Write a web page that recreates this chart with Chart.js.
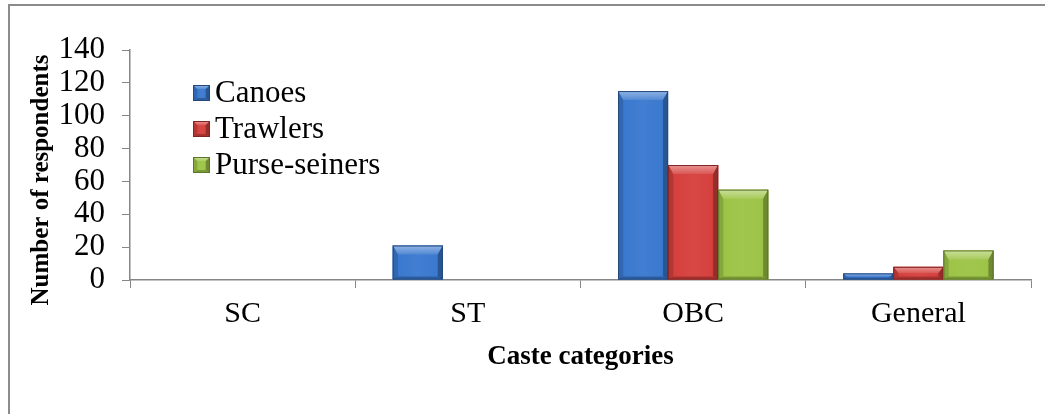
<!DOCTYPE html>
<html>
<head>
<meta charset="utf-8">
<title>Caste categories of respondents</title>
<script src="https://cdn.jsdelivr.net/npm/chart.js@4.4.1/dist/chart.umd.min.js"></script>
<style>
  html, body { margin: 0; padding: 0; background: #ffffff; }
  #wrap { position: relative; width: 1045px; height: 414px; overflow: hidden; }
  #frame { position: absolute; left: 8px; top: 4px; width: 1200px; height: 600px;
           border-top: 2px solid #8c8c8c; border-left: 2px solid #8c8c8c; pointer-events: none; }
  canvas { display: block; position: absolute; left: 0; top: 0; }
</style>
</head>
<body>
<div id="wrap">
  <canvas id="chart" width="1045" height="414"></canvas>
  <div id="frame"></div>
</div>
<script>
// Categories and series
const categories = ['SC', 'ST', 'OBC', 'General'];
const canoes = [0, 21, 115, 4];
const trawlers = [0, 0, 70, 8];
const purseSeiners = [0, 0, 55, 18];
const seriesNames = ['Canoes', 'Trawlers', 'Purse-seiners'];
const seriesColors = ['#3a79cf', '#d5403d', '#9dc447'];
const yTickValues = [0, 20, 40, 60, 80, 100, 120, 140];
const xAxisTitle = 'Caste categories';
const yAxisTitle = 'Number of respondents';

const SERIF = "'Liberation Serif', 'Times New Roman', serif";
const AXIS_GREY = '#868686';

// Mix a hex colour toward white (f > 0) or black (f < 0)
function shade(hex, f) {
  const n = parseInt(hex.slice(1), 16);
  let r = n >> 16, g = (n >> 8) & 255, b = n & 255;
  const t = f < 0 ? 0 : 255, p = Math.abs(f);
  r = Math.round((t - r) * p + r);
  g = Math.round((t - g) * p + g);
  b = Math.round((t - b) * p + b);
  return `rgb(${r},${g},${b})`;
}

function poly(ctx, pts, fill) {
  ctx.beginPath();
  ctx.moveTo(pts[0][0], pts[0][1]);
  for (let i = 1; i < pts.length; i++) ctx.lineTo(pts[i][0], pts[i][1]);
  ctx.closePath();
  ctx.fillStyle = fill;
  ctx.fill();
}

// Bevelled box: shaded body, bright top facet, darker side and bottom facets
function bevelBox(ctx, l, t, r, btm, color) {
  const w = r - l, h = btm - t;
  if (h <= 0.5 || w <= 0) return;
  const bt = Math.min(9, h / 2, w / 4);
  const bs = Math.min(5, h / 2, w / 4);
  const bb = Math.min(3, h / 3);
  ctx.save();
  const g = ctx.createLinearGradient(l, 0, r, 0);
  g.addColorStop(0, shade(color, -0.3));
  g.addColorStop(0.12, color);
  g.addColorStop(0.5, shade(color, 0.04));
  g.addColorStop(0.88, color);
  g.addColorStop(1, shade(color, -0.35));
  ctx.fillStyle = g;
  ctx.fillRect(l, t, w, h);

  const tg = ctx.createLinearGradient(0, t, 0, t + bt);
  tg.addColorStop(0, shade(color, 0.45));
  tg.addColorStop(1, shade(color, 0.12));
  poly(ctx, [[l, t], [r, t], [r - bs, t + bt], [l + bs, t + bt]], tg);
  poly(ctx, [[l, t], [l + bs, t + bt], [l + bs, btm - bb], [l, btm]], shade(color, -0.15));
  poly(ctx, [[r, t], [r - bs, t + bt], [r - bs, btm - bb], [r, btm]], shade(color, -0.3));
  poly(ctx, [[l, btm], [l + bs, btm - bb], [r - bs, btm - bb], [r, btm]], shade(color, -0.22));

  ctx.strokeStyle = shade(color, -0.4);
  ctx.lineWidth = 1;
  ctx.strokeRect(l + 0.5, t + 0.5, w - 1, h - 1);
  ctx.restore();
}

// Draws every bar with the bevelled look, at the positions the bar elements hold
const bevelBars = {
  id: 'bevelBars',
  afterDatasetsDraw(chart) {
    const ctx = chart.ctx;
    chart.data.datasets.forEach((ds, i) => {
      const meta = chart.getDatasetMeta(i);
      if (meta.hidden) return;
      meta.data.forEach(el => {
        const p = el.getProps(['x', 'y', 'base', 'width'], true);
        bevelBox(ctx, p.x - p.width / 2, Math.min(p.y, p.base),
                 p.x + p.width / 2, Math.max(p.y, p.base), ds.backgroundColor);
      });
    });
  }
};

// Legend block inside the plot and the rotated y-axis title
const sideTexts = {
  id: 'sideTexts',
  afterDraw(chart) {
    const ctx = chart.ctx;
    const area = chart.chartArea;
    ctx.save();
    const boxX = area.left + 63, firstY = area.top + 43, step = 36;
    ctx.font = `31px ${SERIF}`;
    ctx.textBaseline = 'middle';
    ctx.textAlign = 'left';
    chart.data.datasets.forEach((ds, i) => {
      const cy = firstY + i * step;
      bevelBox(ctx, boxX, cy - 8, boxX + 17, cy + 8, ds.backgroundColor);
      ctx.fillStyle = '#000000';
      ctx.fillText(ds.label, boxX + 22, cy + 1);
    });

    ctx.translate(42, 180);
    ctx.rotate(-Math.PI / 2);
    ctx.font = `bold 25px ${SERIF}`;
    ctx.textAlign = 'center';
    ctx.textBaseline = 'middle';
    ctx.fillStyle = '#000000';
    ctx.fillText(yAxisTitle, 0, 0);
    ctx.restore();
  }
};

const seriesValues = [canoes, trawlers, purseSeiners];

new Chart(document.getElementById('chart'), {
  type: 'bar',
  data: {
    labels: categories,
    datasets: seriesNames.map((name, i) => ({
      label: name,
      data: seriesValues[i],
      backgroundColor: seriesColors[i],
      borderWidth: 0,
      categoryPercentage: 0.667,
      barPercentage: 1.0
    }))
  },
  options: {
    responsive: false,
    animation: false,
    devicePixelRatio: 1,
    layout: { padding: { left: 10, right: 14, top: 50, bottom: 0 } },
    plugins: {
      legend: { display: false },
      tooltip: { enabled: false },
      title: { display: false }
    },
    scales: {
      x: {
        grid: { display: true, drawOnChartArea: false, drawTicks: true, tickLength: 8,
                color: AXIS_GREY, lineWidth: 1 },
        border: { display: true, color: AXIS_GREY, width: 1.5 },
        ticks: { color: '#000000', padding: 8, autoSkip: false,
                 font: { family: SERIF, size: 30 } },
        title: { display: true, text: xAxisTitle, color: '#000000',
                 font: { family: SERIF, size: 27, weight: 'bold' },
                 padding: { top: 0, bottom: 41 } },
        afterFit(scale) { scale.height = 134; }
      },
      y: {
        min: 0,
        max: 140,
        afterBuildTicks(scale) { scale.ticks = yTickValues.map(v => ({ value: v })); },
        grid: { display: true, drawOnChartArea: false, drawTicks: true, tickLength: 8,
                color: AXIS_GREY, lineWidth: 1 },
        border: { display: true, color: AXIS_GREY, width: 1.5 },
        ticks: { color: '#000000', padding: 17, autoSkip: false,
                 font: { family: SERIF, size: 31 } },
        afterFit(scale) { scale.width = 120; }
      }
    }
  },
  plugins: [bevelBars, sideTexts]
});
</script>
</body>
</html>
